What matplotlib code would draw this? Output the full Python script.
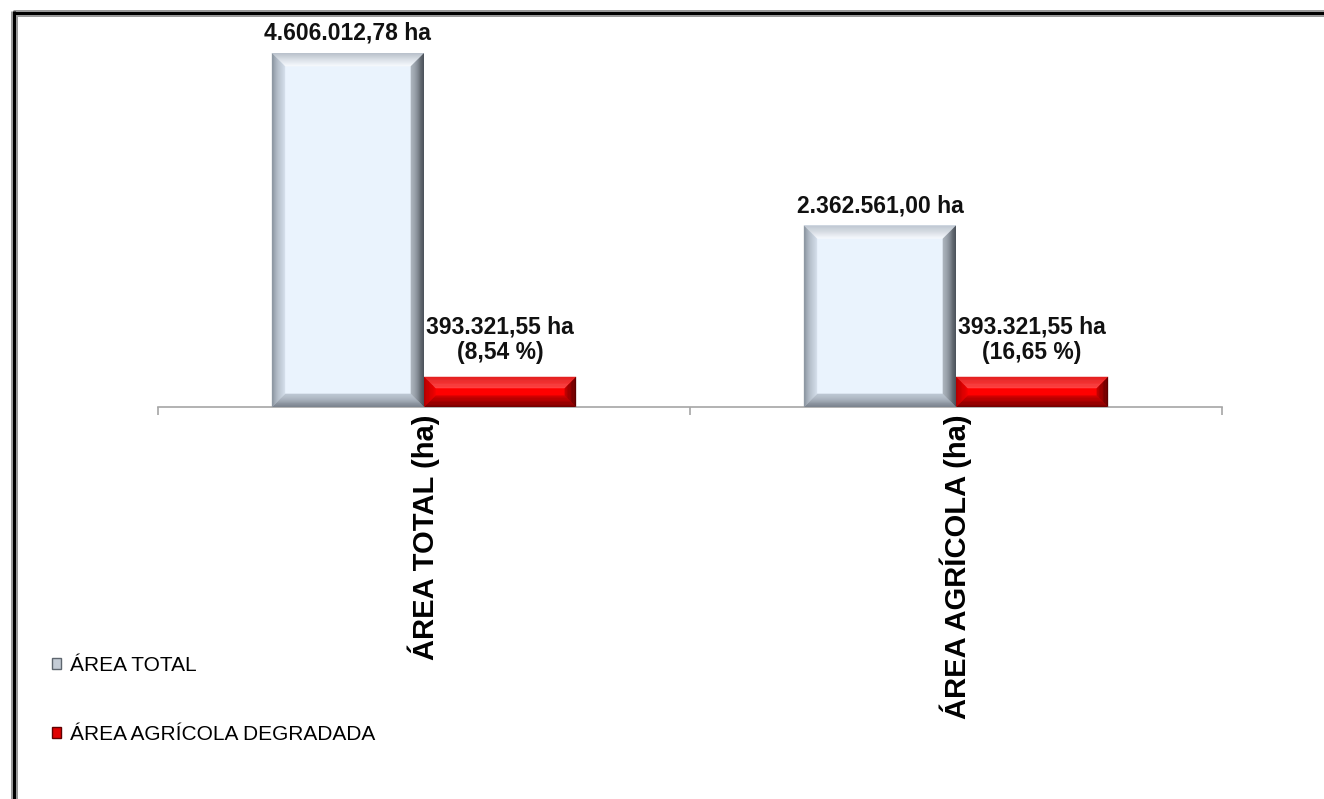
import matplotlib
matplotlib.use('Agg')
import matplotlib.pyplot as plt
from matplotlib.patches import Polygon, Patch
from matplotlib.lines import Line2D
from matplotlib.colors import to_rgb
import numpy as np

# Data
categories = ['ÁREA TOTAL (ha)', 'ÁREA AGRÍCOLA (ha)']
series_names = ['ÁREA TOTAL', 'ÁREA AGRÍCOLA DEGRADADA']
area_total = [4606012.78, 2362561.00]
area_degradada = [393321.55, 393321.55]

plt.rcParams['font.family'] = ['Liberation Sans', 'DejaVu Sans']


def fmt_br(v):
    # brazilian number format: 4.606.012,78
    s = f"{v:,.2f}"
    return s.replace(',', 'X').replace('.', ',').replace('X', '.')


def mix(c1, c2, t):
    a, b = np.array(to_rgb(c1)), np.array(to_rgb(c2))
    return tuple(a + (b - a) * t)


def bevel(ax, bar, sides, size=13, steps=14):
    # draw a bevel frame on top of a bar, computed from the bar's own geometry
    x0, y0 = bar.get_x(), bar.get_y()
    x1, y1 = x0 + bar.get_width(), y0 + bar.get_height()
    (X0, Y0), (X1, Y1) = ax.transData.transform([(x0, y0), (x1, y1)])
    b = min(size, (Y1 - Y0) * 0.37, (X1 - X0) * 0.3)
    inv = ax.transData.inverted()
    for i in range(steps):
        o = b * i / steps
        n = b * (i + 1) / steps + 0.3
        t = (i + 0.5) / steps
        polys = {
            'top': [(X0 + o, Y1 - o), (X1 - o, Y1 - o), (X1 - n, Y1 - n), (X0 + n, Y1 - n)],
            'bottom': [(X0 + o, Y0 + o), (X1 - o, Y0 + o), (X1 - n, Y0 + n), (X0 + n, Y0 + n)],
            'left': [(X0 + o, Y0 + o), (X0 + o, Y1 - o), (X0 + n, Y1 - n), (X0 + n, Y0 + n)],
            'right': [(X1 - o, Y0 + o), (X1 - o, Y1 - o), (X1 - n, Y1 - n), (X1 - n, Y0 + n)],
        }
        for side, pts in polys.items():
            c_out, c_in = sides[side]
            ax.add_patch(Polygon(inv.transform(pts), closed=True,
                                 facecolor=mix(c_out, c_in, t), edgecolor='none',
                                 zorder=3))


blue_face = '#eaf3fd'
blue_sides = {'top': ('#b8c0ca', '#f7fafe'), 'left': ('#8a949f', '#d6e0ec'),
              'right': ('#4a5058', '#aab2bc'), 'bottom': ('#7a828c', '#bcc6d2')}
red_face = '#ff0000'
red_sides = {'top': ('#e02020', '#ff4a4a'), 'left': ('#b00000', '#f00000'),
             'right': ('#500000', '#c00000'), 'bottom': ('#700000', '#d00000')}

fig = plt.figure(figsize=(13.24, 7.99), dpi=100)
ax = fig.add_axes([158 / 1324, 392 / 799, 1064 / 1324, 354 / 799])

x = np.arange(len(categories))
w = 0.286
ax.set_xlim(-0.5, len(categories) - 0.5)
ax.set_ylim(0, max(area_total))

bars1 = ax.bar(x - w / 2, area_total, w, color=blue_face, zorder=2, label=series_names[0])
bars2 = ax.bar(x + w / 2, area_degradada, w, color=red_face, zorder=2, label=series_names[1])

for bar in bars1:
    bevel(ax, bar, blue_sides)
for bar in bars2:
    bevel(ax, bar, red_sides)

# value labels
for xi, v in zip(x, area_total):
    ax.annotate(f"{fmt_br(v)} ha", (xi - w / 2, v), xytext=(0, 6),
                textcoords='offset points', ha='center', va='bottom',
                fontsize=16.5, fontweight='bold', color='#111111')
for xi, v, tot in zip(x, area_degradada, area_total):
    pct = fmt_br(v / tot * 100)
    ax.annotate(f"{fmt_br(v)} ha\n({pct} %)", (xi + w / 2, v), xytext=(0, 9),
                textcoords='offset points', ha='center', va='bottom',
                fontsize=16.5, fontweight='bold', color='#111111', linespacing=1.15)

# axes styling
for s in ['top', 'left', 'right']:
    ax.spines[s].set_visible(False)
ax.spines['bottom'].set_color('#a6a6a6')
ax.spines['bottom'].set_linewidth(1.2)
ax.set_yticks([])
ax.set_xticks(np.arange(-0.5, len(categories), 1.0))
ax.set_xticklabels([])
ax.set_xticks(x, minor=True)
ax.set_xticklabels(categories, minor=True, rotation=90, fontsize=21, fontweight='bold')
ax.tick_params(which='major', axis='x', direction='out', length=5.8, width=1.2, color='#a6a6a6')
ax.tick_params(which='minor', axis='x', length=0, pad=5.5)

handles = [Patch(facecolor='#c4ccd6', edgecolor='#5e666f', linewidth=1),
           Patch(facecolor='#e00000', edgecolor='#600000', linewidth=1)]
fig.legend(handles, series_names, loc='upper left', bbox_to_anchor=(52 / 1324, 0.179),
           frameon=False, fontsize=15, handlelength=0.45, handleheight=0.45,
           handletextpad=0.4, labelspacing=2.4, borderpad=0, borderaxespad=0)

# outer frame (top and left)
for lw, col in [(7, '#9a9a9a'), (3, 'black')]:
    fig.add_artist(Line2D([12.5 / 1324, 1], [1 - 12.5 / 799, 1 - 12.5 / 799],
                          transform=fig.transFigure, color=col, linewidth=lw * 0.72,
                          solid_capstyle='butt'))
    fig.add_artist(Line2D([13.5 / 1324, 13.5 / 1324], [0, 1 - 12.5 / 799 + 1.5 / 799],
                          transform=fig.transFigure, color=col, linewidth=lw * 0.72,
                          solid_capstyle='butt'))

fig.savefig('out.png', dpi=100, facecolor='white')
